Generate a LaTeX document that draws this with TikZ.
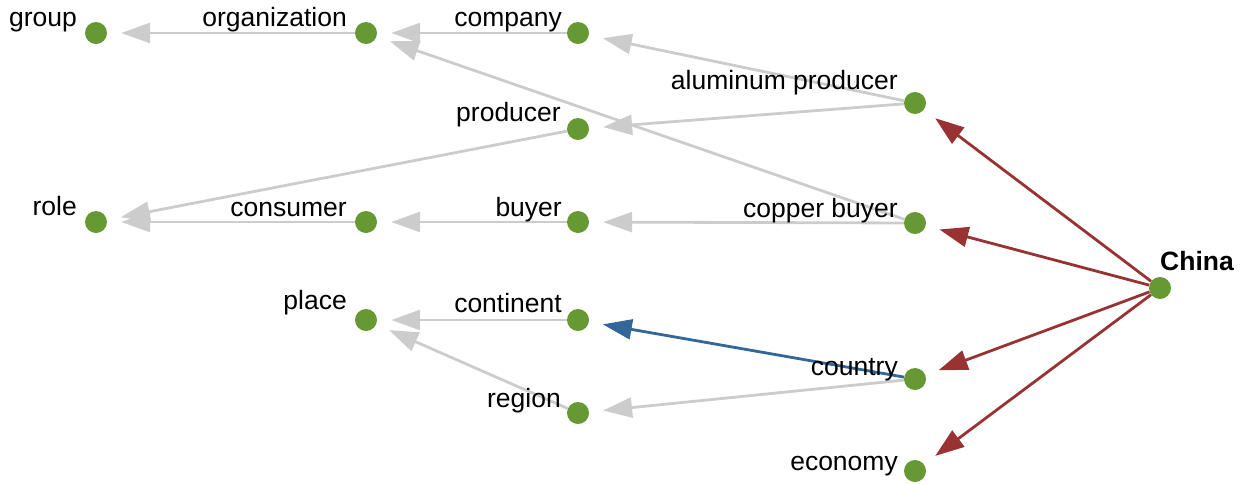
\documentclass[tikz,border=0pt]{standalone}
\usepackage{fontspec}
\setmainfont{Liberation Sans}
\usetikzlibrary{arrows.meta,backgrounds}
\definecolor{dotgreen}{RGB}{102,153,51}
\definecolor{linkgray}{RGB}{204,204,204}
\definecolor{linkred}{RGB}{153,51,51}
\definecolor{linkblue}{RGB}{51,102,153}
\begin{document}
\begin{tikzpicture}[x=1pt,y=-1pt,
  dot/.style={circle, fill=dotgreen, minimum size=22pt, inner sep=0pt},
  lbl/.style={anchor=base east, inner sep=0pt, font=\fontsize{26.5}{30}\selectfont},
  link/.style={draw=linkgray, line width=2.8pt, shorten >=14pt,
    -{Triangle[length=29pt,width=20pt]}},
  redlink/.style={link, draw=linkred, fill=linkred},
  bluelink/.style={link, draw=linkblue, fill=linkblue}]
\useasboundingbox (0,0) rectangle (1243,483);

% concept nodes
\node[dot] (group) at (96,33) {};
\node[dot] (organization) at (366,33) {};
\node[dot] (company) at (578,33) {};
\node[dot] (alprod) at (915,103) {};
\node[dot] (producer) at (578,129) {};
\node[dot] (role) at (96,222) {};
\node[dot] (consumer) at (366,222) {};
\node[dot] (buyer) at (578,222) {};
\node[dot] (cubuyer) at (915,223) {};
\node[dot] (china) at (1160,288) {};
\node[dot] (place) at (366,320) {};
\node[dot] (continent) at (578,320) {};
\node[dot] (country) at (915,379) {};
\node[dot] (region) at (578,413) {};
\node[dot] (economy) at (915,471) {};

% labels
\node[lbl] (group-l) at (77,26) {group};
\node[lbl] (organization-l) at (347,26) {organization};
\node[lbl] (company-l) at (562,26) {company};
\node[lbl] (alprod-l) at (898,89) {aluminum producer};
\node[lbl] (producer-l) at (561,121) {producer};
\node[lbl] (role-l) at (77,215) {role};
\node[lbl] (consumer-l) at (347,216) {consumer};
\node[lbl] (buyer-l) at (562,216) {buyer};
\node[lbl] (cubuyer-l) at (898,217) {copper buyer};
\node[lbl, anchor=base west, font=\fontsize{26.5}{30}\selectfont\bfseries] (china-l) at (1160,270) {China};
\node[lbl] (place-l) at (347,309) {place};
\node[lbl] (continent-l) at (562,312) {continent};
\node[lbl] (country-l) at (898,375) {country};
\node[lbl] (region-l) at (561,407) {region};
\node[lbl] (economy-l) at (898,470) {economy};

% connectors
\begin{scope}[on background layer]
\draw[link] (organization) -- (group);
\draw[link] (company) -- (organization);
\draw[link] (cubuyer) -- (organization);
\draw[link] (alprod) -- (company);
\draw[link] (alprod) -- (producer);
\draw[link] (producer) -- (role);
\draw[link] (consumer) -- (role);
\draw[link] (buyer) -- (consumer);
\draw[link] (cubuyer) -- (buyer);
\draw[link] (continent) -- (place);
\draw[link] (region) -- (place);
\draw[link] (country) -- (region);
\draw[bluelink] (country) -- (continent);
\draw[redlink] (china) -- (alprod);
\draw[redlink] (china) -- (cubuyer);
\draw[redlink] (china) -- (country);
\draw[redlink] (china) -- (economy);
\end{scope}
\end{tikzpicture}
\end{document}
